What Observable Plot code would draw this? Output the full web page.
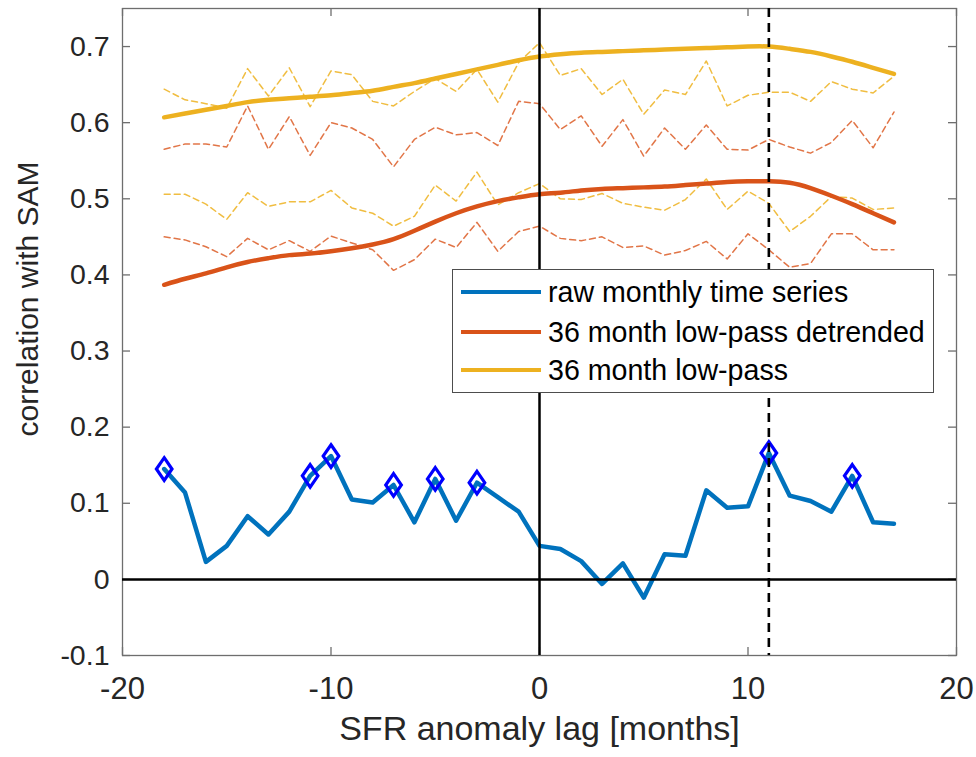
<!DOCTYPE html>
<html><head><meta charset="utf-8">
<script src="https://cdn.jsdelivr.net/npm/d3@7"></script>
<script src="https://cdn.jsdelivr.net/npm/@observablehq/plot@0.6"></script>
<style>
body{margin:0;background:#fff;}
#wrap{position:relative;width:976px;height:757px;font-family:"Liberation Sans",Arial,sans-serif;}
#legend{position:absolute;left:452px;top:269px;width:482px;height:124px;border:1px solid #4d4d4d;background:#fff;box-sizing:border-box;}
.row{position:absolute;left:8px;height:30px;display:flex;align-items:center;font-size:28.6px;color:#000;white-space:nowrap;}
.sw{width:80px;height:4px;margin-right:7px;}
</style></head>
<body><div id="wrap"></div>
<script>
const lags = [-18,-17,-16,-15,-14,-13,-12,-11,-10,-9,-8,-7,-6,-5,-4,-3,-2,-1,0,1,2,3,4,5,6,7,8,9,10,11,12,13,14,15,16,17];
const raw = [0.145,0.114,0.023,0.044,0.083,0.059,0.089,0.136,0.162,0.105,0.101,0.124,0.075,0.132,0.077,0.127,0.108,0.089,
             0.044,0.040,0.024,-0.006,0.021,-0.024,0.033,0.031,0.117,0.094,0.096,0.166,0.110,0.103,0.089,0.136,0.075,0.073];
const sigLags = [-18,-11,-10,-7,-5,-3,11,15];
const lowpass = [0.607,0.612,0.617,0.622,0.627,0.630,0.632,0.634,0.636,0.639,0.642,0.647,0.652,0.658,0.664,0.670,0.676,0.682,
                 0.687,0.690,0.692,0.693,0.694,0.695,0.696,0.697,0.698,0.699,0.700,0.700,0.697,0.693,0.687,0.680,0.672,0.664];
const detrended = [0.387,0.395,0.402,0.410,0.417,0.422,0.426,0.428,0.431,0.435,0.440,0.447,0.458,0.470,0.481,0.490,0.497,0.502,
                   0.506,0.508,0.511,0.513,0.514,0.515,0.516,0.518,0.520,0.522,0.523,0.523,0.521,0.514,0.504,0.493,0.481,0.469];
const lowpassHi = [0.644,0.630,0.625,0.619,0.671,0.635,0.672,0.621,0.668,0.663,
                   0.628,0.622,0.641,0.658,0.641,0.670,0.627,0.679,0.705,
                   0.662,0.671,0.637,0.657,0.611,0.643,0.637,0.681,0.622,0.636,
                   0.640,0.640,0.628,0.654,0.644,0.639,0.661];
const lowpassLo = [0.506,0.506,0.493,0.473,0.508,0.490,0.496,0.496,0.511,0.488,
                   0.481,0.464,0.477,0.518,0.497,0.535,0.492,0.508,0.520,
                   0.500,0.499,0.507,0.494,0.489,0.485,0.499,0.526,0.486,0.510,
                   0.494,0.457,0.477,0.503,0.501,0.486,0.488];
const detrendedHi = [0.565,0.572,0.572,0.568,0.622,0.565,0.608,0.557,0.600,0.593,
                     0.578,0.542,0.578,0.594,0.584,0.587,0.570,0.628,0.625,
                     0.591,0.609,0.569,0.604,0.556,0.593,0.565,0.597,0.565,0.564,
                     0.578,0.568,0.560,0.574,0.603,0.567,0.614];
const detrendedLo = [0.450,0.446,0.437,0.424,0.448,0.433,0.445,0.431,0.451,0.442,
                     0.433,0.406,0.420,0.447,0.436,0.469,0.431,0.457,0.464,
                     0.448,0.445,0.450,0.436,0.438,0.426,0.432,0.444,0.421,0.454,
                     0.433,0.410,0.415,0.454,0.454,0.433,0.433];
const xTicks = [-20,-10,0,10,20];
const yTicks = [-0.1,0,0.1,0.2,0.3,0.4,0.5,0.6,0.7];
const maxLag = 11;
const seriesNames = ["raw monthly time series","36 month low-pass detrended","36 month low-pass"];
const seriesColors = ["#0072BD","#D95319","#EDB120"];
const xLabel = "SFR anomaly lag [months]";
const yLabel = "correlation with SAM";

const W=976,H=757,mL=122,mR=20,mT=8,mB=102;
const plotW=W-mL-mR, plotH=H-mT-mB, tickLen=8;
const fmt = d => d===0 ? "0" : (Number.isInteger(d) ? String(d) : d.toFixed(1));
const diamond = {draw(ctx, size){const s=Math.sqrt(size); const w=s*0.4, h=s*0.58;
  ctx.moveTo(0,-h); ctx.lineTo(w,0); ctx.lineTo(0,h); ctx.lineTo(-w,0); ctx.closePath();}};
const axisGray = "#6e6e6e";

const chart = Plot.plot({
  width: W, height: H, marginLeft: mL, marginRight: mR, marginTop: mT, marginBottom: mB,
  style: {fontFamily: '"Liberation Sans", Arial, sans-serif', fontSize: "28px", background: "#fff"},
  x: {domain: [-20, 20]},
  y: {domain: [-0.1, 0.75]},
  marks: [
    Plot.frame({stroke: axisGray, strokeWidth: 1.3}),
    Plot.ruleX(xTicks, {stroke: axisGray, strokeWidth: 1.3, insetTop: plotH - tickLen}),
    Plot.ruleX(xTicks, {stroke: axisGray, strokeWidth: 1.3, insetBottom: plotH - tickLen}),
    Plot.ruleY(yTicks, {stroke: axisGray, strokeWidth: 1.3, insetRight: plotW - tickLen}),
    Plot.ruleY(yTicks, {stroke: axisGray, strokeWidth: 1.3, insetLeft: plotW - tickLen}),
    Plot.axisX({ticks: xTicks, tickSize: 0, tickPadding: 21, tickFormat: fmt, fontSize: 31, label: null, color: "#262626"}),
    Plot.axisY({ticks: yTicks, tickSize: 0, tickPadding: 13, tickFormat: fmt, fontSize: 28.5, label: null, color: "#262626"}),
    Plot.text([xLabel], {text: d => d, frameAnchor: "bottom", textAnchor: "middle", dy: 84, fontSize: 34, fill: "#262626"}),
    Plot.text([yLabel], {text: d => d, frameAnchor: "left", textAnchor: "middle", dx: -94, dy: -33, rotate: -90, fontSize: 30, fill: "#262626"}),
    Plot.line(lags, {x: lags, y: lowpassHi, stroke: seriesColors[2], strokeWidth: 1.5, strokeDasharray: "6,4", strokeOpacity: 0.85}),
    Plot.line(lags, {x: lags, y: lowpassLo, stroke: seriesColors[2], strokeWidth: 1.5, strokeDasharray: "6,4", strokeOpacity: 0.85}),
    Plot.line(lags, {x: lags, y: detrendedHi, stroke: seriesColors[1], strokeWidth: 1.5, strokeDasharray: "6,4", strokeOpacity: 0.8}),
    Plot.line(lags, {x: lags, y: detrendedLo, stroke: seriesColors[1], strokeWidth: 1.5, strokeDasharray: "6,4", strokeOpacity: 0.8}),
    Plot.line(lags, {x: lags, y: lowpass, stroke: seriesColors[2], strokeWidth: 4.5, curve: "natural"}),
    Plot.line(lags, {x: lags, y: detrended, stroke: seriesColors[1], strokeWidth: 4.5, curve: "natural"}),
    Plot.line(lags, {x: lags, y: raw, stroke: seriesColors[0], strokeWidth: 4.5}),
    Plot.dot(sigLags, {x: d => d, y: d => raw[lags.indexOf(d)], symbol: diamond, r: 11, stroke: "#0000FF", strokeWidth: 3.2, fill: "none"}),
    Plot.ruleY([0], {stroke: "black", strokeWidth: 2.5}),
    Plot.ruleX([0], {stroke: "black", strokeWidth: 2.5}),
    Plot.ruleX([maxLag], {stroke: "black", strokeWidth: 2.6, strokeDasharray: "9,6"})
  ]
});
const wrap = document.getElementById("wrap");
wrap.appendChild(chart);
const legend = document.createElement("div");
legend.id = "legend";
const rowTops = [7, 47, 85];
seriesNames.forEach((name, i) => {
  const row = document.createElement("div");
  row.className = "row";
  row.style.top = rowTops[i] + "px";
  const sw = document.createElement("div");
  sw.className = "sw";
  sw.style.background = seriesColors[i];
  const t = document.createElement("span");
  t.textContent = name;
  row.appendChild(sw); row.appendChild(t);
  legend.appendChild(row);
});
wrap.appendChild(legend);
</script>
</body></html>
